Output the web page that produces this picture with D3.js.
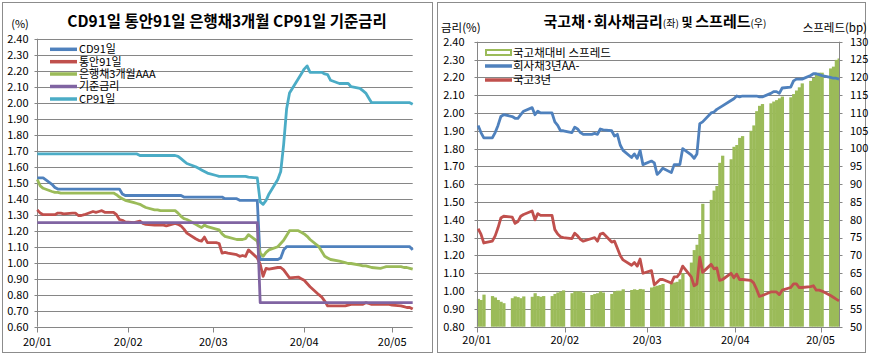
<!DOCTYPE html>
<html><head><meta charset="utf-8">
<script src="https://cdn.jsdelivr.net/npm/d3@7"></script>
<style>body{margin:0;background:#fff}text{font-family:"Noto Sans CJK KR","Noto Sans",sans-serif;fill:#000}</style>
</head><body><svg id="c" width="869" height="358"></svg>
<script>
// ---------- DATA ----------
const dates = [
 "01-01","01-02","01-03",
 "01-06","01-07","01-08","01-09","01-10",
 "01-13","01-14","01-15","01-16","01-17",
 "01-20","01-21","01-22","01-23","01-24",
 "01-27","01-28","01-29","01-30","01-31",
 "02-03","02-04","02-05","02-06","02-07",
 "02-10","02-11","02-12","02-13","02-14",
 "02-17","02-18","02-19","02-20","02-21",
 "02-24","02-25","02-26","02-27","02-28",
 "03-02","03-03","03-04","03-05","03-06",
 "03-09","03-10","03-11","03-12","03-13",
 "03-16","03-17","03-18","03-19","03-20",
 "03-23","03-24","03-25","03-26","03-27",
 "03-30","03-31","04-01","04-02","04-03",
 "04-06","04-07","04-08","04-09","04-10",
 "04-13","04-14","04-15","04-16","04-17",
 "04-20","04-21","04-22","04-23","04-24",
 "04-27","04-28","04-29","04-30","05-01",
 "05-04","05-05","05-06","05-07","05-08"];
const monthTicks = ["01-01","02-01","03-01","04-01","05-01"];
const monthLabels = ["20/01","20/02","20/03","20/04","20/05"];

// Left chart series (%)
const cd91 = [1.53,1.53,1.53, 1.49,1.47,1.46,1.46,1.46, 1.46,1.46,1.46,1.46,1.46, 1.46,1.46,1.46,1.46,1.46, 1.46,1.46,1.46,1.43,1.42,
 1.42,1.42,1.42,1.42,1.42, 1.42,1.42,1.42,1.42,1.42, 1.42,1.42,1.42,1.41,1.41, 1.41,1.41,1.41,1.41,1.41,
 1.41,1.41,1.41,1.40,1.40, 1.40,1.39,1.39,1.39,1.39, 1.39,1.02,1.02,1.02,1.02, 1.02,1.03,1.08,1.10,1.10,
 1.10,1.10,1.10,1.10,1.10, 1.10,1.10,1.10,1.10,1.10, 1.10,1.10,1.10,1.10,1.10, 1.10,1.10,1.10,1.10,1.10,
 1.10,1.10,1.10,1.10,1.10, 1.10,1.10,1.10,1.10,1.08];
const msb91 = [1.33,1.31,1.30, 1.30,1.30,1.31,1.31,1.305, 1.31,1.31,1.295,1.295,1.30, 1.32,1.315,1.32,1.325,1.315, 1.315,1.30,1.27,1.265,1.255,
 1.25,1.255,1.26,1.245,1.24, 1.235,1.235,1.235,1.235,1.23, 1.245,1.24,1.23,1.21,1.185, 1.15,1.14,1.135,1.16,1.125,
 1.125,1.12,1.06,1.065,1.06, 1.05,1.04,1.045,1.04,1.08, 1.03,0.99,0.915,0.965,0.96, 0.97,0.97,0.955,0.93,0.905,
 0.91,0.90,0.89,0.87,0.85, 0.80,0.785,0.76,0.73,0.73, 0.73,0.73,0.73,0.735,0.74, 0.74,0.74,0.75,0.745,0.74,
 0.74,0.74,0.74,0.74,0.735, 0.73,0.725,0.72,0.72,0.71];
const bank3m = [1.52,1.48,1.465, 1.445,1.44,1.44,1.435,1.435, 1.435,1.435,1.435,1.435,1.435, 1.435,1.435,1.435,1.435,1.435, 1.435,1.425,1.41,1.40,1.39,
 1.375,1.37,1.365,1.355,1.345, 1.33,1.33,1.325,1.325,1.325, 1.325,1.31,1.29,1.275,1.27, 1.24,1.23,1.22,1.235,1.225,
 1.21,1.205,1.18,1.165,1.16, 1.145,1.145,1.145,1.15,1.175, 1.135,1.06,1.04,1.065,1.08, 1.10,1.12,1.14,1.17,1.20,
 1.20,1.19,1.18,1.165,1.145, 1.10,1.07,1.04,1.03,1.02, 1.01,1.005,1.00,0.995,0.995, 0.985,0.98,0.98,0.975,0.97,
 0.965,0.97,0.975,0.975,0.975, 0.975,0.97,0.97,0.965,0.96];
const baseRate = [1.25,1.25,1.25, 1.25,1.25,1.25,1.25,1.25, 1.25,1.25,1.25,1.25,1.25, 1.25,1.25,1.25,1.25,1.25, 1.25,1.25,1.25,1.25,1.25,
 1.25,1.25,1.25,1.25,1.25, 1.25,1.25,1.25,1.25,1.25, 1.25,1.25,1.25,1.25,1.25, 1.25,1.25,1.25,1.25,1.25,
 1.25,1.25,1.25,1.25,1.25, 1.25,1.25,1.25,1.25,1.25, 1.25,0.75,0.75,0.75,0.75, 0.75,0.75,0.75,0.75,0.75,
 0.75,0.75,0.75,0.75,0.75, 0.75,0.75,0.75,0.75,0.75, 0.75,0.75,0.75,0.75,0.75, 0.75,0.75,0.75,0.75,0.75,
 0.75,0.75,0.75,0.75,0.75, 0.75,0.75,0.75,0.75,0.75];
const cp91 = [1.68,1.68,1.68, 1.68,1.68,1.68,1.68,1.68, 1.68,1.68,1.68,1.68,1.68, 1.68,1.68,1.68,1.68,1.68, 1.68,1.68,1.68,1.68,1.68,
 1.68,1.68,1.67,1.67,1.67, 1.67,1.67,1.67,1.67,1.67, 1.67,1.665,1.65,1.635,1.62, 1.60,1.59,1.58,1.57,1.56,
 1.545,1.54,1.54,1.54,1.54, 1.54,1.54,1.54,1.54,1.535, 1.53,1.38,1.365,1.39,1.43, 1.52,1.57,1.74,1.96,2.06,
 2.15,2.18,2.21,2.23,2.19, 2.19,2.19,2.18,2.175,2.14, 2.12,2.12,2.12,2.12,2.10, 2.09,2.075,2.06,2.03,2.00,
 2.00,2.00,2.00,2.00,2.00, 2.00,2.00,2.00,2.00,1.99];

// Right chart series (first 92 dates, through 05-07)
const spread = [57.8,57.5,59.0, 58.6,58.2,57.5,57.0,56.6, 58.0,58.5,58.3,58.0,58.5, 58.4,59.4,58.6,58.4,58.6, 58.6,59.2,59.6,59.9,60.2,
 59.4,59.9,59.9,59.9,59.6, 58.9,59.2,59.4,59.9,59.6, 59.2,59.9,60.1,60.1,60.5, 60.3,60.5,60.3,60.6,60.5,
 61.0,61.3,61.5,61.7,62.0, 62.2,62.4,62.6,63.3,65.0, 68.0,71.5,73.0,76.0,84.5, 85.6,88.2,89.5,96.0,98.0,
 97.0,100.5,101.0,103.0,103.5, 105.0,106.5,110.5,112.0,112.5, 112.7,113.2,113.6,114.1,114.6, 114.4,115.3,116.3,117.2,118.3,
 119.0,119.8,120.9,121.3,121.3, 122.5,123.0,124.9,125.3];
const corpAA = [1.93,1.89,1.86, 1.86,1.89,1.93,1.98,1.99, 1.98,1.97,1.97,1.99,2.01, 2.03,1.99,2.01,2.00,2.00, 2.00,1.95,1.93,1.90,1.90,
 1.89,1.92,1.91,1.89,1.88, 1.88,1.885,1.88,1.91,1.905, 1.90,1.87,1.88,1.82,1.79, 1.75,1.77,1.745,1.79,1.71,
 1.73,1.72,1.655,1.67,1.69, 1.665,1.71,1.71,1.71,1.80, 1.765,1.745,1.77,1.94,1.95, 2.00,2.005,2.02,2.03,2.04,
 2.07,2.08,2.095,2.09,2.095, 2.095,2.095,2.095,2.09,2.09, 2.11,2.12,2.12,2.11,2.14, 2.145,2.18,2.19,2.19,2.19,
 2.21,2.22,2.22,2.215,2.21, 2.20,2.195,2.195,2.19];
const ktb3 = [1.35,1.32,1.27, 1.28,1.31,1.355,1.41,1.42, 1.415,1.38,1.39,1.42,1.43, 1.45,1.40,1.435,1.425,1.425, 1.425,1.345,1.32,1.305,1.30,
 1.295,1.325,1.31,1.29,1.28, 1.295,1.30,1.28,1.32,1.325, 1.275,1.28,1.24,1.20,1.175, 1.145,1.16,1.14,1.18,1.10,
 1.115,1.035,1.05,1.065,1.065, 1.045,1.08,1.08,1.10,1.14, 1.08,1.03,1.04,1.19,1.105, 1.15,1.125,1.13,1.06,1.065,
 1.10,1.075,1.095,1.065,1.065, 1.06,1.045,1.01,0.97,0.975, 0.995,0.995,0.995,0.98,1.005, 1.02,1.04,1.04,1.02,1.02,
 1.025,1.03,1.005,1.005,1.00, 0.975,0.965,0.955,0.945];

const leftTicks = [0.6,0.7,0.8,0.9,1.0,1.1,1.2,1.3,1.4,1.5,1.6,1.7,1.8,1.9,2.0,2.1,2.2,2.3,2.4];
const rightTicksL = [0.8,0.9,1.0,1.1,1.2,1.3,1.4,1.5,1.6,1.7,1.8,1.9,2.0,2.1,2.2,2.3,2.4];
const rightTicksR = [50,55,60,65,70,75,80,85,90,95,100,105,110,115,120,125,130];

// ---------- DRAW ----------
const C = {blue:"#4F81BD", red:"#C0504D", green:"#9BBB59", purple:"#8064A2", cyan:"#4BACC6", grid:"#868686", axis:"#868686"};
const parse = s => d3.timeParse("%Y-%m-%d")("2020-" + s);
const D = dates.map(parse);
const svg = d3.select("#c");
const px = v => Math.round(v) + 0.5;

// panel borders
svg.append("rect").attr("x",2.5).attr("y",2.5).attr("width",430).attr("height",350).attr("fill","none").attr("stroke","#8c8c8c");
svg.append("rect").attr("x",437.5).attr("y",2.5).attr("width",428).attr("height",350).attr("fill","none").attr("stroke","#8c8c8c");

// ===== LEFT =====
const xL = d3.scaleTime().domain([parse("01-01"), parse("05-08")]).range([37.3, 412.7]);
const yL = d3.scaleLinear().domain([0.6, 2.4]).range([326.7, 38.7]);
const gL = svg.append("g");
leftTicks.forEach(t => {
  const y = px(yL(t));
  gL.append("line").attr("x1",px(xL.range()[0])-3).attr("x2",xL.range()[1]).attr("y1",y).attr("y2",y).attr("stroke",C.grid);
  gL.append("text").attr("x",28.5).attr("y",y).attr("dy","0.35em").attr("text-anchor","end").attr("font-size",11).text(d3.format(".2f")(t));
});
gL.append("line").attr("x1",px(xL.range()[0])).attr("x2",px(xL.range()[0])).attr("y1",yL(2.4)).attr("y2",yL(0.6)).attr("stroke",C.axis);
monthTicks.forEach((m,i) => {
  const x = px(xL(parse(m)));
  gL.append("line").attr("x1",x).attr("x2",x).attr("y1",px(yL(0.6))).attr("y2",px(yL(0.6))+5).attr("stroke",C.axis);
  gL.append("text").attr("x",xL(parse(m))).attr("y",345.5).attr("text-anchor","middle").attr("font-size",11).text(monthLabels[i]);
});
const lineL = d3.line().x((d,i)=>xL(D[i])).y(d=>yL(d));
[[cd91,C.blue],[msb91,C.red],[bank3m,C.green],[baseRate,C.purple],[cp91,C.cyan]].forEach(([s,c]) => {
  gL.append("path").attr("d",lineL(s)).attr("fill","none").attr("stroke",c).attr("stroke-width",2.8).attr("stroke-linejoin","round");
});
gL.append("text").attr("x",227).attr("y",27).attr("text-anchor","middle").attr("font-size",15.5).attr("font-weight","bold").text("CD91일 통안91일 은행채3개월 CP91일 기준금리");
gL.append("text").attr("x",20).attr("y",28).attr("text-anchor","middle").attr("font-size",11).text("(%)");
const legL = [["CD91일",C.blue],["통안91일",C.red],["은행채3개월AAA",C.green],["기준금리",C.purple],["CP91일",C.cyan]];
const legLy = [49.3,61.7,74,86.5,99];
legL.forEach(([t,c],i) => {
  gL.append("line").attr("x1",50).attr("x2",77).attr("y1",legLy[i]).attr("y2",legLy[i]).attr("stroke",c).attr("stroke-width",3.5);
  gL.append("text").attr("x",79).attr("y",legLy[i]).attr("dy","0.35em").attr("font-size",11).text(t);
});

// ===== RIGHT =====
const xR = d3.scaleTime().domain([parse("01-01"), new Date(2020,4,7,12)]).range([476.7, 839]);
const yR = d3.scaleLinear().domain([0.8, 2.4]).range([326.7, 41.7]);
const yR2 = d3.scaleLinear().domain([50, 130]).range([326.7, 41.7]);
const gR = svg.append("g");
svg.append("clipPath").attr("id","clipR").append("rect").attr("x",476.7).attr("y",30).attr("width",839-476.7).attr("height",300);
rightTicksL.forEach(t => {
  const y = px(yR(t));
  gR.append("line").attr("x1",px(476.7)-3).attr("x2",px(839)+3).attr("y1",y).attr("y2",y).attr("stroke",C.grid);
  gR.append("text").attr("x",464.5).attr("y",y).attr("dy","0.35em").attr("text-anchor","end").attr("font-size",11).text(d3.format(".2f")(t));
});
rightTicksR.forEach(t => {
  gR.append("text").attr("x",850).attr("y",yR2(t)).attr("dy","0.35em").attr("font-size",11).text(t);
});
const dayMs = 864e5;
const gBars = gR.append("g").attr("clip-path","url(#clipR)");
spread.forEach((v,i) => {
  const x0 = xR(D[i]), x1 = xR(new Date(+D[i] + dayMs));
  gBars.append("rect").attr("x",x0).attr("width",x1-x0+0.4).attr("y",yR2(v)).attr("height",yR2(50)-yR2(v)).attr("fill",C.green);
});
gR.append("line").attr("x1",px(476.7)).attr("x2",px(476.7)).attr("y1",yR(2.4)).attr("y2",yR(0.8)).attr("stroke",C.axis);
gR.append("line").attr("x1",px(839)).attr("x2",px(839)).attr("y1",yR(2.4)).attr("y2",yR(0.8)).attr("stroke",C.axis);
monthTicks.forEach((m,i) => {
  const x = px(xR(parse(m)));
  gR.append("line").attr("x1",x).attr("x2",x).attr("y1",px(yR(0.8))).attr("y2",px(yR(0.8))+5).attr("stroke",C.axis);
  gR.append("text").attr("x",xR(parse(m))).attr("y",344).attr("text-anchor","middle").attr("font-size",11).text(monthLabels[i]);
});
const lineR = d3.line().x((d,i)=>xR(new Date(+D[i] + dayMs/2))).y(d=>yR(d));
[[corpAA,C.blue],[ktb3,C.red]].forEach(([s,c]) => {
  gR.append("path").attr("d",lineR(s)).attr("fill","none").attr("stroke",c).attr("stroke-width",2.8).attr("stroke-linejoin","round");
});
const tR = gR.append("text").attr("x",655).attr("y",27).attr("text-anchor","middle").attr("font-weight","bold");
tR.append("tspan").attr("font-size",15).text("국고채·회사채금리");
tR.append("tspan").attr("font-size",10).attr("font-weight","normal").text("(좌)");
tR.append("tspan").attr("font-size",12).text(" 및 ");
tR.append("tspan").attr("font-size",15).text("스프레드");
tR.append("tspan").attr("font-size",10).attr("font-weight","normal").text("(우)");
gR.append("text").attr("x",441).attr("y",32).attr("font-size",11.5).text("금리(%)");
gR.append("text").attr("x",867).attr("y",32).attr("text-anchor","end").attr("font-size",11.5).text("스프레드(bp)");
gR.append("rect").attr("x",486).attr("y",50).attr("width",25).attr("height",5).attr("fill","#fff").attr("stroke",C.green).attr("stroke-width",2);
gR.append("text").attr("x",513).attr("y",52.5).attr("dy","0.35em").attr("font-size",11.5).text("국고채대비 스프레드");
gR.append("line").attr("x1",485).attr("x2",512).attr("y1",66).attr("y2",66).attr("stroke",C.blue).attr("stroke-width",3.5);
gR.append("text").attr("x",513).attr("y",66).attr("dy","0.35em").attr("font-size",11.5).text("회사채3년AA-");
gR.append("line").attr("x1",485).attr("x2",512).attr("y1",80).attr("y2",80).attr("stroke",C.red).attr("stroke-width",3.5);
gR.append("text").attr("x",513).attr("y",80).attr("dy","0.35em").attr("font-size",11.5).text("국고3년");
</script></body></html>
